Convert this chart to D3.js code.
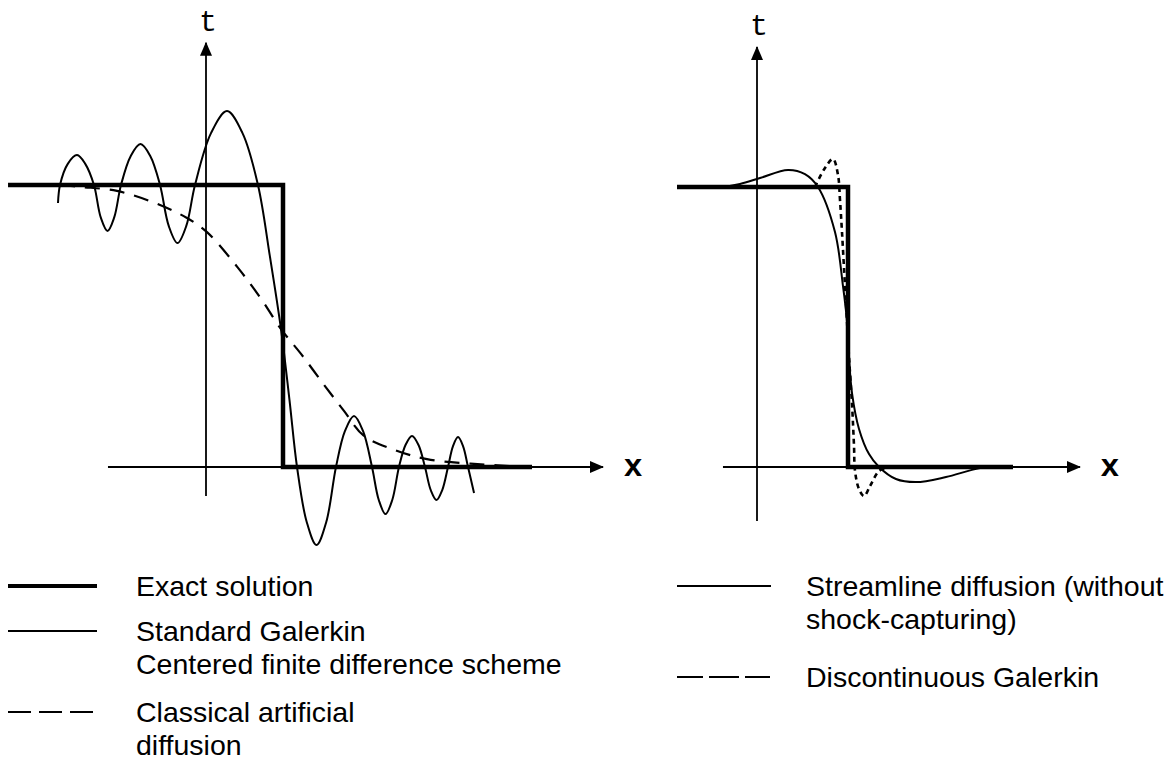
<!DOCTYPE html>
<html><head><meta charset="utf-8">
<script src="https://cdn.jsdelivr.net/npm/d3@7"></script>
<style>body{margin:0;background:#fff}svg{display:block}</style>
</head><body>
<svg id="c" width="1172" height="771"></svg>
<script>
// ---------- data (x: units where t-axis = 0 and jump = 1; y: x-axis = 0, plateau = 1) ----------
const leftExactX = [-2.571, 1, 1, 4.234];
const leftExactY = [1, 1, 0, 0];
const galerkinX = [-1.922,-1.896,-1.795,-1.675,-1.568,-1.455,-1.367,-1.279,-1.192,-1.104,-0.977,-0.851,-0.724,-0.597,-0.484,-0.370,-0.256,-0.143,0.065,0.273,0.474,0.675,0.831,0.974,1.084,1.182,1.308,1.435,1.562,1.688,1.805,1.922,2.039,2.156,2.244,2.331,2.419,2.506,2.591,2.675,2.760,2.844,2.919,2.994,3.068,3.143,3.208,3.273,3.338,3.403,3.481];
const galerkinY = [0.936,1.0,1.075,1.106,1.075,1.0,0.885,0.837,0.885,1.0,1.103,1.145,1.103,1.0,0.855,0.794,0.855,1.0,1.184,1.262,1.184,1.0,0.745,0.489,0.238,0,-0.195,-0.277,-0.195,0,0.128,0.181,0.128,0,-0.117,-0.167,-0.117,0,0.078,0.110,0.078,0,-0.082,-0.117,-0.082,0,0.074,0.106,0.074,0,-0.092];
const artDiffX = [-1.896,-1.623,-1.156,-0.597,-0.247,0.013,0.416,0.727,0.974,1.234,1.545,1.792,2.052,2.455,2.870,3.481,4.208];
const artDiffY = [1.0,0.993,0.979,0.929,0.883,0.833,0.706,0.592,0.489,0.401,0.287,0.199,0.110,0.060,0.028,0.011,0];

const rightExactX = [-0.879, 1, 1, 2.813];
const rightExactY = [1, 1, 0, 0];
const streamX = [-0.879,-0.407,-0.187,0.033,0.341,0.527,0.670,0.857,0.945,0.989,1.011,1.044,1.121,1.231,1.341,1.527,1.747,2.077,2.451,2.813];
const streamY = [1.0,1.0,1.011,1.032,1.061,1.046,1.0,0.839,0.646,0.521,0.393,0.264,0.136,0.046,0,-0.043,-0.054,-0.036,-0.004,0];
const dgX = [0.637,0.747,0.835,0.890,0.912,0.934,0.967,0.989,1.011,1.044,1.066,1.077,1.121,1.176,1.242,1.341,1.418];
const dgY = [1.0,1.068,1.1,1.043,0.954,0.839,0.646,0.521,0.393,0.225,0.075,-0.014,-0.079,-0.104,-0.068,-0.014,-0.004];

const leftAxisX = [-1.273, 5.156];
const leftAxisT = [-0.103, 1.504];
const rightAxisX = [-0.374, 3.549];
const rightAxisT = [-0.193, 1.5];
const axisLabels = ["t", "x"];

const legendLeft = [
  {style:"exact", lines:["Exact solution"]},
  {style:"thin", lines:["Standard Galerkin","Centered finite difference scheme"]},
  {style:"legdash", lines:["Classical artificial","diffusion"]}
];
const legendRight = [
  {style:"thin", lines:["Streamline diffusion (without","shock-capturing)"]},
  {style:"legdash2", lines:["Discontinuous Galerkin"]}
];

// ---------- drawing ----------
const svg = d3.select("#c");
const defs = svg.append("defs");
defs.append("marker").attr("id","arr").attr("viewBox","0 0 14 12").attr("refX",13).attr("refY",6)
  .attr("markerWidth",14).attr("markerHeight",12).attr("markerUnits","userSpaceOnUse").attr("orient","auto")
  .append("path").attr("d","M0,0 L14,6 L0,12 Z").attr("fill","#000");

const styles = {
  exact:{w:4.5, dash:null},
  thin:{w:2, dash:null},
  dash:{w:2.2, dash:"15,10"},
  dots:{w:2.6, dash:"5,4"},
  legdash:{w:2.2, dash:"23,8"},
  legdash2:{w:2.2, dash:"26,6,30,6,25"}
};

function panel(xr, yr, axX, axT, series){
  const x = d3.scaleLinear().domain([0,1]).range(xr);
  const y = d3.scaleLinear().domain([0,1]).range(yr);
  const g = svg.append("g");
  g.append("line").attr("x1",x(axX[0])).attr("x2",x(axX[1])).attr("y1",y(0)).attr("y2",y(0))
    .attr("stroke","#000").attr("stroke-width",2).attr("marker-end","url(#arr)");
  g.append("line").attr("x1",x(0)).attr("x2",x(0)).attr("y1",y(axT[0])).attr("y2",y(axT[1]))
    .attr("stroke","#000").attr("stroke-width",1.8).attr("marker-end","url(#arr)");
  g.append("text").text(axisLabels[0]).attr("x",x(0)+2).attr("y",y(axT[1])-12)
    .attr("text-anchor","middle").attr("font-family","Liberation Mono, monospace").attr("font-size",30);
  g.append("text").text(axisLabels[1]).attr("x",x(axX[1])+30).attr("y",y(0)+9)
    .attr("text-anchor","middle").attr("font-family","Liberation Mono, monospace").attr("font-size",32).attr("font-weight","bold");
  series.forEach(s=>{
    const pts = s.xs.map((v,i)=>[v, s.ys[i]]);
    const line = d3.line().x(d=>x(d[0])).y(d=>y(d[1])).curve(s.curve);
    const st = styles[s.style];
    g.append("path").attr("d",line(pts)).attr("fill","none").attr("stroke","#000")
      .attr("stroke-width",st.w).attr("stroke-dasharray",st.dash).attr("stroke-linejoin","miter").attr("stroke-linecap","butt");
  });
}

panel([206,283],[467,185], leftAxisX, leftAxisT, [
  {xs:artDiffX, ys:artDiffY, style:"dash", curve:d3.curveCatmullRom},
  {xs:galerkinX, ys:galerkinY, style:"thin", curve:d3.curveCatmullRom},
  {xs:leftExactX, ys:leftExactY, style:"exact", curve:d3.curveLinear}
]);
panel([757,848],[467,187], rightAxisX, rightAxisT, [
  {xs:dgX, ys:dgY, style:"dots", curve:d3.curveCatmullRom},
  {xs:streamX, ys:streamY, style:"thin", curve:d3.curveCatmullRom},
  {xs:rightExactX, ys:rightExactY, style:"exact", curve:d3.curveLinear}
]);

function legend(items, x0, x1, tx, ys){
  items.forEach((it,i)=>{
    const y0 = ys[i];
    const st = styles[it.style];
    svg.append("line").attr("x1",x0).attr("x2",x1).attr("y1",y0).attr("y2",y0)
      .attr("stroke","#000").attr("stroke-width", it.style==="exact"?4:1.8).attr("stroke-dasharray",st.dash);
    it.lines.forEach((t,j)=>{
      svg.append("text").text(t).attr("x",tx).attr("y",y0+10+j*33)
        .attr("font-family","Liberation Sans, Arial, sans-serif").attr("font-size",28.5).attr("fill","#000");
    });
  });
}
legend(legendLeft, 8, 97, 136, [586, 631, 712]);
legend(legendRight, 677, 771, 806, [586, 677]);
</script>
</body></html>
